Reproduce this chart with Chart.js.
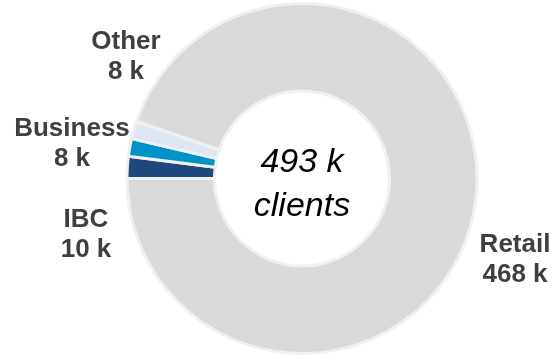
<!DOCTYPE html>
<html>
<head>
<meta charset="utf-8">
<script src="https://cdn.jsdelivr.net/npm/chart.js@4/dist/chart.umd.min.js"></script>
<style>
  html, body { margin: 0; padding: 0; background: #ffffff; }
  #wrap { width: 553px; height: 355px; position: relative; }
</style>
</head>
<body>
<div id="wrap"><canvas id="chart" width="553" height="355"></canvas></div>
<script>
// Client segments (thousands of clients)
const segments = ['Retail', 'IBC', 'Business', 'Other'];
const clients = [468, 10, 8, 8];
const valueLabels = ['468 k', '10 k', '8 k', '8 k'];
const totalLabel = ['493 k', 'clients'];

const colors = ['#d9d9d9', '#1f497d', '#0093c8', '#dce6f2'];

// Where each segment's caption sits, relative to the ring centre (px)
const labelOffsets = [
  { dx: 213, dy: 73 },   // Retail
  { dx: -216, dy: 48 },  // IBC
  { dx: -230, dy: -43 }, // Business
  { dx: -176, dy: -130 } // Other
];

const FONT = "'Liberation Sans', Arial, Helvetica, sans-serif";

const captionPlugin = {
  id: 'captions',
  afterDraw(chart) {
    const ctx = chart.ctx;
    const arc = chart.getDatasetMeta(0).data[0];
    const cx = arc.x, cy = arc.y;
    ctx.save();
    ctx.textAlign = 'center';
    ctx.textBaseline = 'alphabetic';

    // segment captions
    ctx.fillStyle = '#3f3f3f';
    ctx.font = 'bold 26px ' + FONT;
    segments.forEach((name, i) => {
      const o = labelOffsets[i];
      ctx.fillText(name, cx + o.dx, cy + o.dy);
      ctx.fillText(valueLabels[i], cx + o.dx, cy + o.dy + 30.5);
    });

    // total in the hole
    ctx.fillStyle = '#000000';
    ctx.font = 'italic 34px ' + FONT;
    ctx.fillText(totalLabel[0], cx, cy - 7);
    ctx.fillText(totalLabel[1], cx, cy + 37);
    ctx.restore();
  }
};

new Chart(document.getElementById('chart'), {
  type: 'doughnut',
  data: {
    labels: segments,
    datasets: [{
      data: clients,
      backgroundColor: colors,
      borderColor: '#f0f0f0',
      borderWidth: 3,
      hoverOffset: 0
    }]
  },
  options: {
    responsive: false,
    animation: false,
    cutout: '50%',
    rotation: -71,
    layout: { padding: { left: 125, right: 74, top: 2, bottom: 0 } },
    plugins: {
      legend: { display: false },
      tooltip: { enabled: false }
    }
  },
  plugins: [captionPlugin]
});
</script>
</body>
</html>
